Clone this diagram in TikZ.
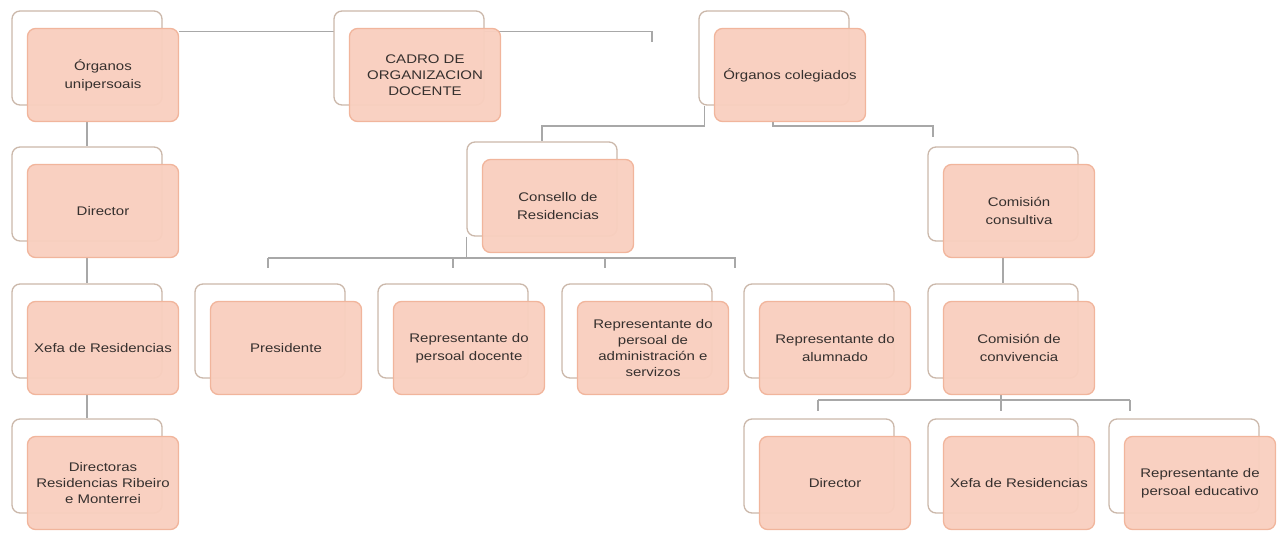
\documentclass[tikz,border=0pt]{standalone}
\usepackage{fontspec}
\setmainfont{Liberation Sans}[FakeStretch=1.2]
\definecolor{frontfill}{HTML}{F9CFBF}
\definecolor{frontdraw}{HTML}{F1B59C}
\definecolor{backdraw}{HTML}{CBB8AA}
\definecolor{conncol}{HTML}{A8A8A8}
\definecolor{txtcol}{HTML}{36302E}
\pgfdeclarelayer{background}
\pgfsetlayers{background,main}
\tikzset{
  backbox/.style={draw=backdraw, line width=1.3pt, fill=white, rounded corners=8pt,
    minimum width=150pt, minimum height=94pt, inner sep=0pt},
  frontbox/.style={draw=frontdraw, line width=1.3pt, fill=frontfill, fill opacity=0.96,
    text opacity=1, rounded corners=8pt, minimum width=151pt, minimum height=93pt,
    text width=148pt, align=center, font=\fontsize{12.5}{18}\selectfont,
    text=txtcol, inner sep=0pt},
  conn/.style={draw=conncol, line width=1.3pt},
  tight/.style={font=\fontsize{12.5}{16}\selectfont},
}
\newcommand\orgunit[5][]{%
  \node[backbox] (#2b) at (#3-16,#4-17) {};
  \node[frontbox,#1] (#2) at (#3,#4) {#5};
}
\begin{document}
\begin{tikzpicture}[x=1pt,y=-1pt]
\useasboundingbox (0,0) rectangle (1279,534);
% boxes
\orgunit{A}{103}{75}{Órganos\\unipersoais}
\orgunit[tight]{B}{425}{75}{CADRO DE\\ORGANIZACION\\DOCENTE}
\orgunit{C}{790}{75}{Órganos colegiados}
\orgunit{Dir}{103}{211}{Director}
\orgunit{Cons}{558}{206}{Consello de\\Residencias}
\orgunit{Ccons}{1019}{211}{Comisión\\consultiva}
\orgunit{Xefa}{103}{348}{Xefa de Residencias}
\orgunit{Pres}{286}{348}{Presidente}
\orgunit{Rdoc}{469}{348}{Representante do\\persoal docente}
\orgunit[tight]{Radm}{653}{348}{Representante do\\persoal de\\administración e\\servizos}
\orgunit{Ralum}{835}{348}{Representante do\\alumnado}
\orgunit{Cconv}{1019}{348}{Comisión de\\convivencia}
\orgunit[tight]{Dirs}{103}{483}{Directoras\\Residencias Ribeiro\\e Monterrei}
\orgunit{Dirt}{835}{483}{Director}
\orgunit{Xefb}{1019}{483}{Xefa de Residencias}
\orgunit{Rped}{1200}{483}{Representante de\\persoal educativo}
% free ends and buses
\coordinate (topend) at (652,42);
\coordinate (busC) at (0,126);
\coordinate (cE) at (933,137);
\coordinate (busK) at (0,258);
\coordinate (k1) at (268,268);
\coordinate (k2) at (453,268);
\coordinate (k3) at (605,268);
\coordinate (k4) at (735,268);
\coordinate (busV) at (0,400);
\coordinate (v1) at (818,411);
\coordinate (v2) at (1001,411);
\coordinate (v3) at (1130,411);
% connectors behind the boxes
\begin{pgfonlayer}{background}
\draw[conn] ([yshift=-4pt]A.north east) -| (topend);
\draw[conn] (A.south -| Dirb.north) -- (Dirb.north);
\draw[conn] (Dir.south -| Xefab.north) -- (Xefab.north);
\draw[conn] (Xefa.south -| Dirsb.north) -- (Dirsb.north);
\draw[conn] ([xshift=6pt]Cb.south west) |- (busC -| Consb.north) -- (Consb.north);
\draw[conn] ([xshift=-17pt]C.south) |- (busC -| cE) -- (cE);
\draw[conn] (Consb.south west) |- (busK -| k4) -- (k4);
\draw[conn] (busK -| k1) -- (busK -| k4);
\draw[conn] (busK -| k1) -- (k1);
\draw[conn] (busK -| k2) -- (k2);
\draw[conn] (busK -| k3) -- (k3);
\draw[conn] (Ccons.south -| Cconvb.north) -- (Cconvb.north);
\draw[conn] (Cconv.south -| v2) -- (v2);
\draw[conn] (busV -| v1) -- (busV -| v3);
\draw[conn] (busV -| v1) -- (v1);
\draw[conn] (busV -| v3) -- (v3);
\end{pgfonlayer}
\end{tikzpicture}
\end{document}
